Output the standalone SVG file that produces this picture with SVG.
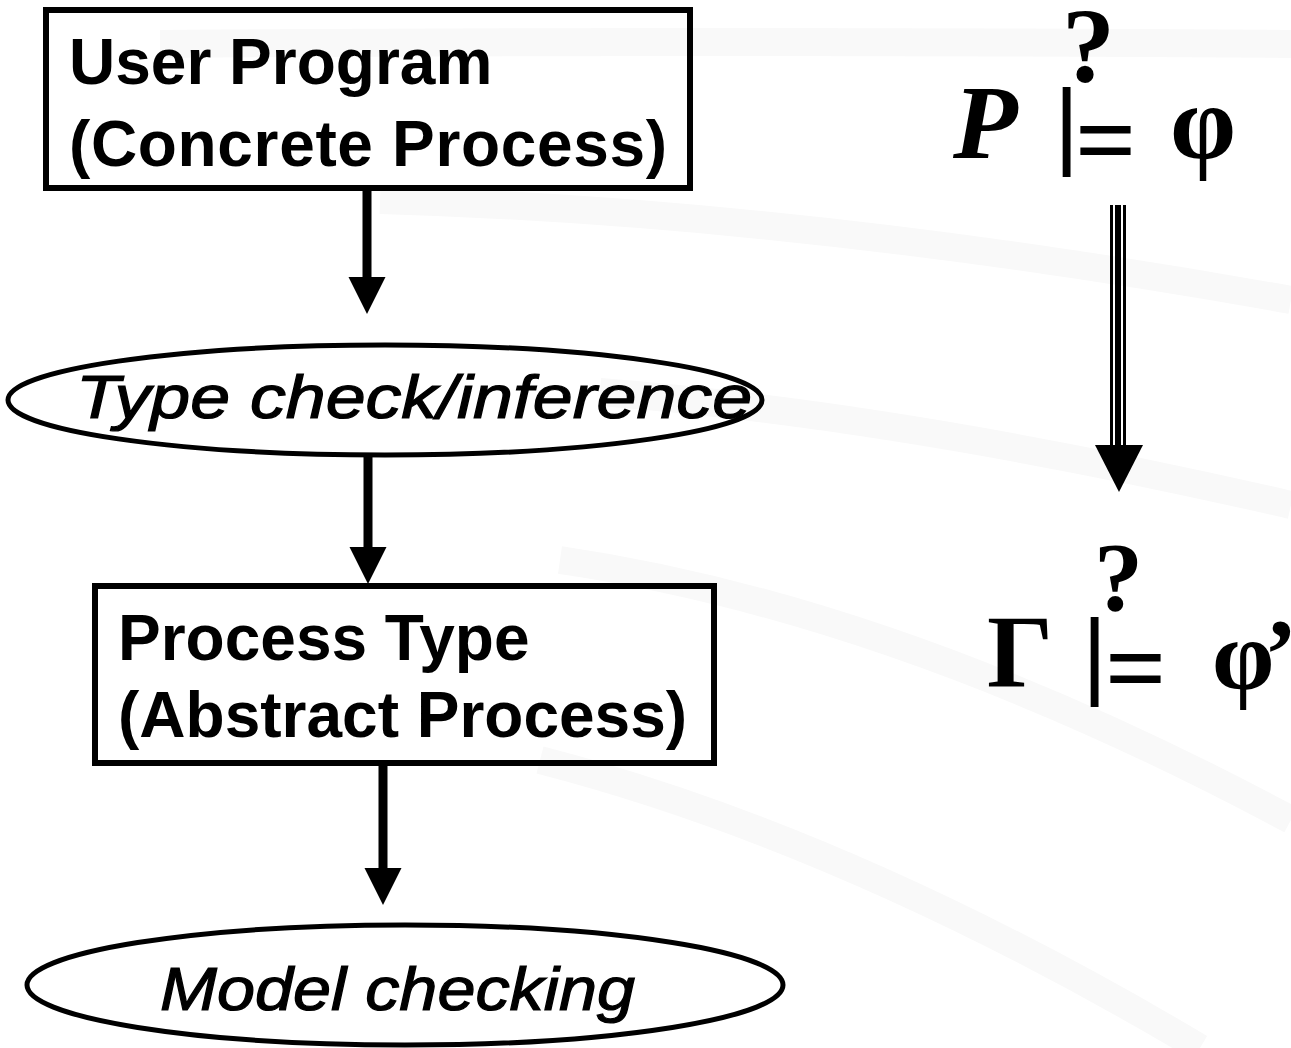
<svg xmlns="http://www.w3.org/2000/svg" width="1291" height="1048" viewBox="0 0 1291 1048">
  <style>
    .box { fill: none; stroke: #000000; stroke-width: 6; }
    .oval { fill: none; stroke: #000000; stroke-width: 5; }
    .label { font-family: "Liberation Sans", Arial, sans-serif; font-weight: bold; font-size: 64px; fill: #000000; }
    .step { font-family: "Liberation Sans", Arial, sans-serif; font-style: italic; font-size: 62px; fill: #000000; stroke: #000000; stroke-width: 1.2; }
    .shaft { stroke: #000000; stroke-width: 9; fill: none; }
    .math { font-family: "Liberation Serif", "Times New Roman", serif; font-weight: bold; fill: #000000; }
    .bar { font-family: "Liberation Sans", Arial, sans-serif; font-size: 97px; fill: #000000; }
    .swoosh { fill: none; stroke: #f9f9f9; stroke-width: 28; }
  </style>
  <defs>
    <marker id="head" markerUnits="userSpaceOnUse" markerWidth="40" markerHeight="40" refX="2" refY="18.5" orient="auto">
      <path d="M0,0 L37,18.5 L0,37 Z" fill="#000000"/>
    </marker>
  </defs>

  <rect width="1291" height="1048" fill="#ffffff"/>

  <!-- faint background sweeps -->
  <g id="backdrop">
    <path class="swoosh" d="M160,44 Q700,40 1291,44"/>
    <path class="swoosh" d="M380,200 Q800,212 1291,300"/>
    <path class="swoosh" d="M600,392 Q900,415 1291,505"/>
    <path class="swoosh" d="M560,560 Q900,610 1291,820"/>
    <path class="swoosh" d="M540,760 Q850,840 1200,1048"/>
  </g>

  <!-- flow connectors -->
  <g id="connectors">
    <line class="shaft" x1="367" y1="190" x2="367" y2="279" marker-end="url(#head)"/>
    <line class="shaft" x1="368" y1="455" x2="368" y2="549" marker-end="url(#head)"/>
    <line class="shaft" x1="383" y1="766" x2="383" y2="870" marker-end="url(#head)"/>
    <!-- triple-line implication arrow -->
    <line x1="1111.5" y1="205" x2="1111.5" y2="447" stroke="#000" stroke-width="3"/>
    <line x1="1118" y1="205" x2="1118" y2="447" stroke="#000" stroke-width="6"/>
    <line x1="1124.5" y1="205" x2="1124.5" y2="447" stroke="#000" stroke-width="3"/>
    <polygon points="1095,445 1143,445 1119,492" fill="#000"/>
  </g>

  <g id="user-program">
    <rect class="box" x="46" y="10" width="644" height="178"/>
    <text class="label" x="69" y="84">User Program</text>
    <text class="label" x="69" y="166" textLength="598">(Concrete Process)</text>
  </g>

  <g id="type-check">
    <ellipse class="oval" cx="385" cy="400" rx="377" ry="55"/>
    <text class="step" x="76" y="418" textLength="676" lengthAdjust="spacingAndGlyphs">Type check/inference</text>
  </g>

  <g id="process-type">
    <rect class="box" x="95" y="586" width="619" height="177"/>
    <text class="label" x="118" y="660">Process Type</text>
    <text class="label" x="118" y="737">(Abstract Process)</text>
  </g>

  <g id="model-checking">
    <ellipse class="oval" cx="405" cy="985" rx="378" ry="60"/>
    <text class="step" x="160" y="1010" textLength="475" lengthAdjust="spacingAndGlyphs">Model checking</text>
  </g>

  <g id="formula-concrete">
    <text class="math" x="953" y="158" font-size="106" font-style="italic">P</text>
    <text class="math" x="1062" y="82" font-size="106">?</text>
    <text class="bar" x="1054" y="157">|</text>
    <text class="math" x="1075" y="176" font-size="108">=</text>
    <text class="math" x="1170" y="158" font-size="106">φ</text>
  </g>

  <g id="formula-abstract">
    <text class="math" x="987" y="687" font-size="104">Γ</text>
    <text class="math" x="1094" y="610" font-size="98">?</text>
    <text class="bar" x="1082" y="687">|</text>
    <text class="math" x="1105" y="704" font-size="108">=</text>
    <text class="math" x="1212" y="689" font-size="100">φ</text>
    <text class="math" x="1264" y="687" font-size="100">’</text>
  </g>
</svg>
